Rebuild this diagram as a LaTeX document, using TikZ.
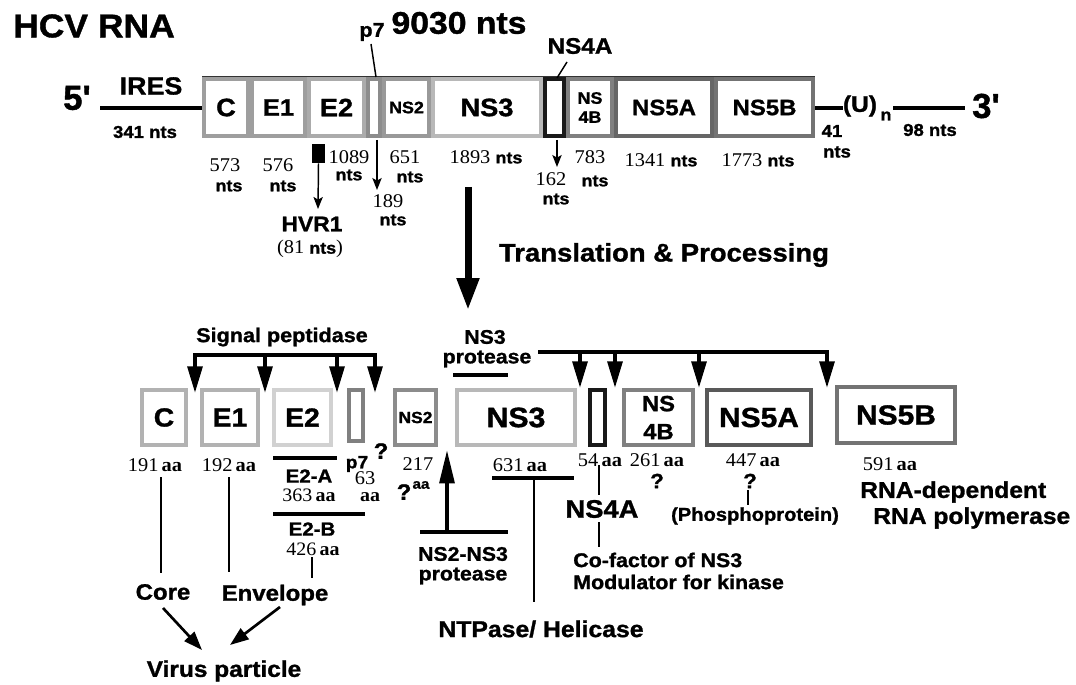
\documentclass[tikz,border=0pt]{standalone}
\usepackage{fontspec}
\setmainfont{Liberation Serif}[FakeStretch=1.05]
\newfontfamily\hv{Liberation Sans}[FakeStretch=1.08, FakeBold=1.2]
\newfontfamily\hvn{Liberation Sans}[FakeBold=1.2]
\usetikzlibrary{arrows.meta}
% font size helpers: size in pt times a family factor
\newcommand\scaledsize[2]{\pgfmathsetmacro\fsval{#1*#2}\pgfmathsetmacro\fsbl{#1*#2*1.15}\fontsize{\fsval pt}{\fsbl pt}\selectfont}
\newcommand\ssz[1]{\scaledsize{#1}{1.11}}
\newcommand\nsz[1]{\scaledsize{#1}{1.14}}
\tikzset{
  lab/.style={inner sep=0pt, font=\hv\bfseries\ssz{#1}},
  num/.style={inner sep=0pt, font=\nsz{#1}},
  gb/.style n args={4}{draw=#1, line width=3pt, fill=white, inner sep=0pt,
    minimum width={0.75*#2*1pt}, minimum height={0.75*#3*1pt}, font=\hv\bfseries\ssz{#4}},
  rule/.style={line width=1.1pt},
  hbar/.style={line width=3pt},
  cleave/.style={line width=3pt, -{Triangle[width=11pt,length=20pt]}},
  ptr/.style={line width=1.1pt, -{Stealth[width=7pt,length=9pt,inset=2pt]}},
}
\newcommand\amino[1]{#1\,{\bfseries aa}}
\newcommand\nts{{\hv\bfseries\ssz{11.2}nts}}
\begin{document}
\begin{tikzpicture}[x=0.75pt, y=-0.75pt]
\path[use as bounding box, fill=white] (0,0) rectangle (1076,685);

% ---------- genome ----------
\node[lab=22.2] (title) at (94,26) {HCV RNA};
\node[lab=21.1] (len) at (459,23) {9030 nts};

\draw[black!80, line width=1pt] (202,77) coordinate (barL) -- (815,77) coordinate (barR);
\node[gb={black!38}{44}{57}{17}] (tC) at (226,107.5) {C};
\node[gb={black!38}{53}{57}{16}] (tE1) at (278.5,107.5) {E1};
\node[gb={black!33}{55}{57}{17}] (tE2) at (336.5,107.5) {E2};
\node[gb={black!45}{12}{57}{17}] (tp7) at (374,107.5) {};
\node[gb={black!40}{45}{57}{11.2}] (tNS2) at (406.5,107.5) {NS2};
\node[gb={black!28}{108}{57}{17}] (tNS3) at (487,107.5) {NS3};
\node[gb={black!90}{19}{57}{17}] (tNS4A) at (554.5,107.5) {};
\node[gb={black!50}{44}{57}{11.2}, align=center] (tNS4B) at (590,107.5) {NS\\4B};
\node[gb={black!60}{96}{57}{15}] (tNS5A) at (664,107.5) {NS5A};
\node[gb={black!55}{97}{57}{15}] (tNS5B) at (764.5,107.5) {NS5B};

% 5' end
\node[inner sep=0pt, font=\hvn\bfseries\fontsize{26pt}{26pt}\selectfont] (five) at (77,98) {5'};
\coordinate (ires0) at (100,108);
\draw[line width=3pt] (ires0) -- (ires0 -| tC.west);
\node[lab=16.8] (ires) at (151,86) {IRES};
\node[lab=11.6] (ireslen) at (145,132) {341 nts};

% 3' end
\node[lab=15.3] (uu) at (860,106) {(U)};
\node[lab=11.2] (nn) at (886,116) {n};
\draw[line width=2.5pt] (tNS5B.east |- ires0) -- (uu.west |- ires0);
\coordinate (utr0) at (893,108);
\coordinate (utr1) at (965,108);
\draw[line width=3pt] (utr0) -- (utr1);
\node[inner sep=0pt, font=\hvn\bfseries\fontsize{26pt}{26pt}\selectfont] (three) at (986,106) {3'};
\node[lab=11.6] (u41) at (832,131) {41};
\node[lab=11.6] (u41b) at (837,152) {nts};
\node[lab=11.6] (utrlen) at (930,130) {98 nts};

% labels above the bar
\node[lab=13.5] (p7top) at (372,32) {p7};
\coordinate (p7a) at (371,44);
\coordinate (p7b) at (376,77);
\draw[rule] (p7a) -- (p7b);
\node[lab=15.2] (ns4atop) at (580,46) {NS4A};
\coordinate (n4a) at (567,62);
\coordinate (n4b) at (557,78);
\draw[rule] (n4a) -- (n4b);

% lengths below the bar
\node[num=12.8] (l573) at (225,165) {573};
\node[inner sep=0pt] (l573b) at (229,186) {\nts};
\node[num=12.8] (l576) at (278,165) {576};
\node[inner sep=0pt] (l576b) at (283,186) {\nts};
\node[num=12.8] (l1089) at (349,157) {1089};
\node[inner sep=0pt] (l1089b) at (349,175) {\nts};
\node[num=12.8] (l651) at (405,157) {651};
\node[inner sep=0pt] (l651b) at (410,177) {\nts};
\node[num=12.8] (l1893) at (486,157) {1893 \nts};
\node[num=12.8] (l783) at (590,157) {783};
\node[inner sep=0pt] (l783b) at (595,181) {\nts};
\node[num=12.8] (l1341) at (661,160) {1341 \nts};
\node[num=12.8] (l1773) at (758,160) {1773 \nts};

% HVR1
\node[fill=black, inner sep=0pt, minimum width=9.75pt, minimum height=14.25pt] (hvr) at (318.5,153.5) {};
\coordinate (hvrtip) at (318,209);
\draw[ptr] (hvr.south) -- (hvrtip);
\node[lab=14.3] (hvrl) at (312,224) {HVR1};
\node[num=12.8] (hvrn) at (310,249) {(81 \nts)};

% p7 length
\coordinate (p7s) at (377,140);
\coordinate (p7t) at (377,190);
\draw[ptr] (p7s) -- (p7t);
\node[num=12.8] (l189) at (388,201) {189};
\node[inner sep=0pt] (l189b) at (393,220) {\nts};

% NS4A length
\coordinate (n4s) at (557,140);
\coordinate (n4t) at (557,167);
\draw[ptr] (n4s) -- (n4t);
\node[num=12.8] (l162) at (551,179) {162};
\node[inner sep=0pt] (l162b) at (556,199) {\nts};

% translation
\coordinate (tr0) at (468,187);
\coordinate (tr1) at (468,310);
\draw[line width=5.25pt, -{Triangle[width=16pt,length=24pt]}] (tr0) -- (tr1);
\node[lab=17.2] (trl) at (664,255) {Translation \& Processing};

% ---------- polyprotein ----------
\node[gb={black!30}{44}{55}{17.7}] (pC) at (164,417.5) {C};
\node[gb={black!30}{56}{55}{17.7}] (pE1) at (230,417.5) {E1};
\node[gb={black!18}{57}{55}{17.7}] (pE2) at (302.5,417.5) {E2};
\node[gb={black!50}{14}{51}{17}] (pp7) at (356,415.5) {};
\node[gb={black!45}{41}{55}{10.9}] (pNS2) at (415.5,417.5) {NS2};
\node[gb={black!28}{118}{55}{18.9}] (pNS3) at (516,417.5) {NS3};
\node[gb={black!90}{15}{55}{17}] (pNS4A) at (597.5,417.5) {};
\node[gb={black!50}{69}{55}{15}, align=center, font=\hv\bfseries\fontsize{16.5pt}{21pt}\selectfont] (pNS4B) at (658.5,417.5) {NS\\4B};
\node[gb={black!65}{104}{55}{18.7}] (pNS5A) at (759,417.5) {NS5A};
\node[gb={black!55}{118}{56}{18.7}] (pNS5B) at (896,415) {NS5B};

% signal peptidase cleavages
\node[lab=13.5] (sigp) at (282,337) {Signal peptidase};
\coordinate (sp1) at (195,355);
\coordinate (sp2) at (265,355);
\coordinate (sp3) at (337,355);
\coordinate (sp4) at (375,355);
\coordinate (sp1t) at (195,393);
\coordinate (sp2t) at (265,393);
\coordinate (sp3t) at (337,393);
\coordinate (sp4t) at (375,393);
\draw[cleave, {Triangle[width=11pt,length=20pt]}-{Triangle[width=11pt,length=20pt]}] (sp1t) -- (sp1) -- (sp4) -- (sp4t);
\draw[cleave] (sp2) -- (sp2t);
\draw[cleave] (sp3) -- (sp3t);

% NS3 protease cleavages
\node[lab=13.3] (ns3p1) at (485,337) {NS3};
\node[lab=13.3] (ns3p2) at (487,359) {protease};
\coordinate (ul0) at (453,375);
\coordinate (ul1) at (508,375);
\draw[hbar] (ul0) -- (ul1);
\coordinate (np0) at (538,352);
\coordinate (np1) at (580,352);
\coordinate (np2) at (615,352);
\coordinate (np3) at (699,352);
\coordinate (np4) at (827,352);
\coordinate (np1t) at (580,388);
\coordinate (np2t) at (615,388);
\coordinate (np3t) at (699,388);
\coordinate (np4t) at (827,388);
\draw[cleave] (np0) -- (np4) -- (np4t);
\draw[cleave] (np1) -- (np1t);
\draw[cleave] (np2) -- (np2t);
\draw[cleave] (np3) -- (np3t);

% sizes of the products
\node[num=12.8] (aC) at (155,465) {\amino{191}};
\node[num=12.8] (aE1) at (229,465) {\amino{192}};
\coordinate (e2a0) at (273,458);
\coordinate (e2a1) at (337,458);
\draw[hbar] (e2a0) -- (e2a1);
\node[lab=12.8] (e2al) at (309,476) {E2-A};
\node[num=12.5] (e2an) at (309,495) {\amino{363}};
\coordinate (e2b0) at (273,514);
\coordinate (e2b1) at (365,514);
\draw[hbar] (e2b0) -- (e2b1);
\node[lab=12.8] (e2bl) at (312,529) {E2-B};
\node[num=12.5] (e2bn) at (313,549) {\amino{426}};
\node[lab=12] (p7bot) at (357,464) {p7};
\node[lab=15] (p7q) at (381,451) {?};
\node[num=12.8] (p7n) at (365,478) {63};
\node[num=12.8, font=\bfseries\nsz{12.5}] (p7aa) at (370,497) {aa};
\node[num=12.8] (ns2n) at (418,464) {217};
\node[lab=15] (ns2q) at (404,492) {?};
\node[lab=9.5] (ns2aa) at (421,485) {aa};

\node[num=12.8] (aNS3) at (520,465) {\amino{631}};
\node[num=12.8] (aNS4A) at (600,460) {\amino{54}};
\node[num=12.8] (aNS4B) at (657,460) {\amino{261}};
\node[num=12.8] (aNS5A) at (753,460) {\amino{447}};
\node[num=12.8] (aNS5B) at (890,464) {\amino{591}};

% NS2-NS3 protease
\coordinate (tb0) at (420,532);
\coordinate (tb1) at (508,532);
\coordinate (tbm) at (447,532);
\coordinate (tbt) at (447,450);
\draw[line width=3.4pt] (tb0) -- (tb1);
\draw[line width=3pt, -{Triangle[width=11pt,length=25pt]}] (tbm) -- (tbt);
\node[lab=13.3] (n23a) at (463,554) {NS2-NS3};
\node[lab=13.3] (n23b) at (463,576) {protease};

% NS3 helicase
\coordinate (h0) at (492,478);
\coordinate (h1) at (574,478);
\coordinate (hm) at (534,478);
\coordinate (hb) at (534,602);
\draw[hbar] (h0) -- (h1);
\draw[rule] (hm) -- (hb);
\node[lab=15.5] (heli) at (541,629) {NTPase/ Helicase};

% NS4A cofactor
\node[lab=17.1] (ns4al) at (602,509) {NS4A};
\coordinate (c4a) at (599,465);
\coordinate (c4b) at (599,495);
\coordinate (c4c) at (599,522);
\coordinate (c4d) at (599,547);
\draw[rule] (c4a) -- (c4b);
\draw[rule] (c4c) -- (c4d);
\node[lab=13.4, anchor=west] (cof1) at (573,560) {Co-factor of NS3};
\node[lab=13.4, anchor=west] (cof2) at (573,582) {Modulator for kinase};

% NS4B / NS5A
\node[lab=14] (q4b) at (657,481) {?};
\node[lab=14] (q5a) at (750,481) {?};
\coordinate (ph0) at (748,490);
\coordinate (ph1) at (748,505);
\draw[rule] (ph0) -- (ph1);
\node[lab=12.6] (phos) at (755,516) {(Phosphoprotein)};

% NS5B
\node[lab=15.4, anchor=west] (rd1) at (860,492) {RNA-dependent};
\node[lab=15.4, anchor=west] (rd2) at (873,518) {RNA polymerase};

% structural proteins
\node[lab=15] (core) at (163,592) {Core};
\node[lab=15] (env) at (275,595) {Envelope};
\node[lab=15.3] (virus) at (224,671) {Virus particle};
\coordinate (cv0) at (161,477);
\coordinate (ev0) at (229,477);
\draw[rule] (cv0) -- (cv0 |- 0,573);
\draw[rule] (ev0) -- (ev0 |- 0,572);
\coordinate (e2v0) at (312,557);
\coordinate (e2v1) at (312,578);
\draw[rule] (e2v0) -- (e2v1);
\coordinate (va0) at (163,608);
\coordinate (va1) at (202,650);
\coordinate (vb0) at (280,607);
\coordinate (vb1) at (230,645);
\draw[line width=2pt, -{Triangle[width=10pt,length=14pt]}] (va0) -- (va1);
\draw[line width=2pt, -{Triangle[width=10pt,length=14pt]}] (vb0) -- (vb1);
\end{tikzpicture}
\end{document}
